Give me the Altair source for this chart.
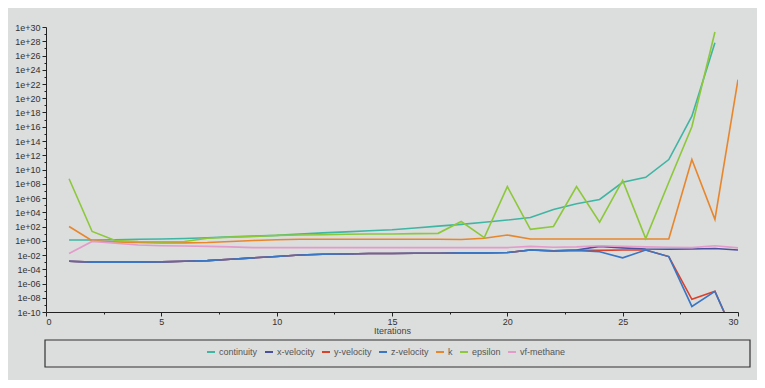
import altair as alt
import pandas as pd

iterations = list(range(1, 31))

continuity = [1.3, 1.3, 1.4, 1.6, 1.8, 2.1, 2.7, 3.5, 4.5, 5.6, 8.9, 12.6, 17.8, 25, 35,
              63, 112, 200, 400, 800, 1.8e3, 2.5e4, 1.6e5, 6.3e5, 1.6e8, 8e8, 2.5e11,
              3e17, 6e27]
x_velocity = [1.3e-3, 1e-3, 1e-3, 1e-3, 1.1e-3, 1.3e-3, 1.6e-3, 2.5e-3, 4e-3, 6.3e-3,
              1e-2, 1.3e-2, 1.4e-2, 1.6e-2, 1.6e-2, 1.8e-2, 1.8e-2, 2e-2, 2e-2, 2.2e-2,
              5e-2, 4e-2, 5e-2, 1.6e-1, 1e-1, 7e-2, 6.3e-2, 7e-2, 8e-2, 5e-2]
y_velocity = [1.3e-3, 1e-3, 1e-3, 1e-3, 1.1e-3, 1.3e-3, 1.6e-3, 2.5e-3, 4e-3, 6.3e-3,
              1e-2, 1.3e-2, 1.4e-2, 1.6e-2, 1.6e-2, 1.8e-2, 1.8e-2, 2e-2, 2e-2, 2.2e-2,
              5e-2, 4e-2, 4.5e-2, 4.5e-2, 5e-2, 5e-2, 6e-3, 6e-9, 8e-8, 4e-15]
z_velocity = [1.3e-3, 1e-3, 1e-3, 1e-3, 1.1e-3, 1.3e-3, 1.6e-3, 2.5e-3, 4e-3, 6.3e-3,
              1e-2, 1.3e-2, 1.4e-2, 1.6e-2, 1.6e-2, 1.8e-2, 1.8e-2, 2e-2, 2e-2, 2.2e-2,
              5e-2, 3.5e-2, 4.5e-2, 2.8e-2, 4e-3, 5e-2, 6e-3, 6e-10, 8e-8, 4e-15]
k = [100, 1.0, 0.7, 0.56, 0.5, 0.5, 0.56, 0.8, 1.1, 1.4, 1.6, 1.6, 1.6, 1.6, 1.6, 1.6,
     1.6, 1.5, 2.2, 6.3, 1.8, 1.8, 1.8, 1.8, 1.8, 1.8, 1.8, 2.5e11, 1e3, 4e22]
epsilon = [5e8, 20, 1.1, 0.8, 0.7, 0.8, 2.2, 3.2, 4, 5.6, 6.3, 7, 8, 9, 9, 10, 11,
           5e2, 2.8, 4e7, 40, 100, 4e7, 400, 3e8, 2, 1.6e8, 1e16, 2e29]
vf_methane = [1.6e-2, 0.8, 0.45, 0.25, 0.2, 0.18, 0.16, 0.14, 0.11, 0.11, 0.11, 0.11,
              0.11, 0.11, 0.11, 0.11, 0.11, 0.11, 0.11, 0.11, 0.16, 0.12, 0.14, 0.2,
              0.16, 0.14, 0.12, 0.11, 0.2, 0.1]

series_names = ["continuity", "x-velocity", "y-velocity", "z-velocity", "k", "epsilon", "vf-methane"]
series_values = [continuity, x_velocity, y_velocity, z_velocity, k, epsilon, vf_methane]
series_colors = ["#3fb5a3", "#4a4f9e", "#d9412b", "#3a76c4", "#e8862c", "#8cc83a", "#e39bcc"]

rows = []
for name, vals in zip(series_names, series_values):
    for it, v in zip(iterations, vals):
        rows.append({"Iteration": it, "Residual": v, "Series": name})
df = pd.DataFrame(rows)

y_ticks = [10.0 ** e for e in range(-10, 31)]
x_ticks = [i * 2.5 for i in range(13)]

font = "Liberation Sans"

lines = alt.Chart(df).mark_line(strokeWidth=1.6, clip=True).encode(
    x=alt.X("Iteration:Q",
            scale=alt.Scale(domain=[0, 30], nice=False),
            axis=alt.Axis(values=x_ticks, title="Iterations",
                          labelExpr="datum.value % 5 == 0 ? datum.label : ''",
                          tickSize={"condition": {"test": "datum.value % 5 == 0", "value": 4}, "value": 2},
                          grid=False, domainColor="#222", tickColor="#222",
                          labelColor="#333", labelFontSize=9, labelFont=font,
                          titleFont=font, titleFontSize=9, titleFontWeight="normal",
                          titleColor="#444", titlePadding=0, labelPadding=1)),
    y=alt.Y("Residual:Q",
            scale=alt.Scale(type="log", domain=[1e-10, 1e30], nice=False),
            axis=alt.Axis(values=y_ticks, title=None,
                          labelExpr="(round(log(datum.value)/LN10) % 2 != 0) ? '' : ('1e' + (round(log(datum.value)/LN10) >= 0 ? '+' : '-') + (abs(round(log(datum.value)/LN10)) < 10 ? '0' : '') + abs(round(log(datum.value)/LN10)))",
                          tickSize={"condition": {"test": "round(log(datum.value)/LN10) % 2 == 0", "value": 4}, "value": 2},
                          grid=False, domainColor="#222", tickColor="#222",
                          labelColor="#333", labelFontSize=9, labelFont=font,
                          labelPadding=2, labelOverlap=False)),
    color=alt.Color("Series:N",
                    scale=alt.Scale(domain=series_names, range=series_colors),
                    legend=alt.Legend(orient="none", legendX=160, legendY=320,
                                      direction="horizontal", columns=7, title=None,
                                      symbolType="stroke", symbolSize=64,
                                      symbolStrokeWidth=2, labelFont=font,
                                      labelFontSize=9, labelColor="#555",
                                      columnPadding=3, symbolOffset=0,
                                      labelOffset=3)),
)

frame = alt.Chart(pd.DataFrame({"a": [0]})).mark_rect(
    filled=False, stroke="#333", strokeWidth=1.2
).encode(x=alt.value(-1), x2=alt.value(704), y=alt.value(313), y2=alt.value(340))

chart = alt.layer(lines, frame).properties(
    width=692, height=285,
    autosize=alt.AutoSizeParams(type="none"),
    padding={"left": 38, "top": 19, "right": 19, "bottom": 68},
    background="#dcdddd",
).configure_view(stroke=None, fill="#dcdddd")

chart.save("out.html", embed_options={"renderer": "svg", "actions": False})
